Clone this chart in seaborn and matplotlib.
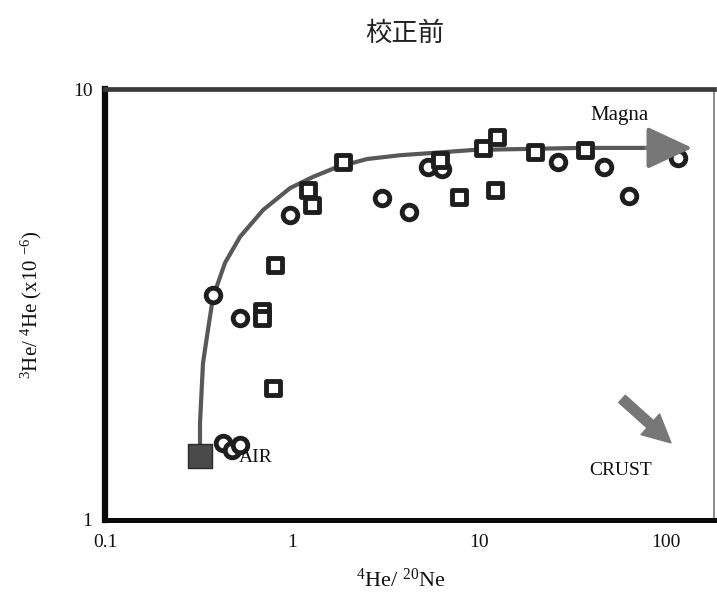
import numpy as np
import pandas as pd
import matplotlib
matplotlib.use("Agg")
import matplotlib.pyplot as plt
from matplotlib.ticker import LogLocator, NullFormatter, FixedLocator, FixedFormatter
import seaborn as sns

# --- data -------------------------------------------------------------
# circles: 4He/20Ne vs 3He/4He (x10^-6)
circle_x = [0.428, 0.477, 0.527, 0.378, 0.527, 0.976, 3.03, 4.23, 5.33, 6.34, 26.4, 46.6, 63.4, 116]
circle_y = [1.51, 1.45, 1.49, 3.32, 2.94, 5.10, 5.59, 5.18, 6.59, 6.53, 6.77, 6.59, 5.64, 6.92]

# squares
square_x = [0.69, 0.69, 0.81, 0.79, 1.28, 1.22, 1.87, 6.2, 7.82, 12.2, 10.5, 12.5, 19.9, 36.9]
square_y = [3.05, 2.94, 3.91, 2.02, 5.38, 5.83, 6.77, 6.85, 5.61, 5.83, 7.30, 7.74, 7.13, 7.22]

# atmospheric end member
air_x = [0.322]
air_y = [1.41]

# air-magma mixing curve
curve_x = [0.322, 0.322, 0.334, 0.355, 0.378, 0.438, 0.527, 0.70, 0.976, 1.29, 1.74, 2.52, 3.78, 5.47, 9.29, 34.7, 80.0]
curve_y = [1.41, 1.68, 2.31, 2.76, 3.29, 3.95, 4.54, 5.24, 5.89, 6.25, 6.59, 6.88, 7.02, 7.10, 7.22, 7.30, 7.30]

x_ticks = [0.1, 1, 10, 100]
x_tick_labels = ["0.1", "1", "10", "100"]
y_ticks = [1, 10]
y_tick_labels = ["1", "10"]

title = "校正前"

# --- styling ----------------------------------------------------------
sns.set_theme(style="white")
plt.rcParams["font.family"] = ["Liberation Serif", "Noto Sans CJK JP", "DejaVu Sans"]
plt.rcParams["mathtext.fontset"] = "custom"
plt.rcParams["mathtext.rm"] = "Liberation Serif"
plt.rcParams["mathtext.it"] = "Liberation Serif:italic"

fig = plt.figure(figsize=(7.17, 6.07), dpi=100)
L, R, B, T = 105 / 717, 714 / 717, 1 - 520 / 607, 1 - 89 / 607
ax = fig.add_axes([L, B, R - L, T - B])

curve_df = pd.DataFrame({"x": curve_x, "y": curve_y})
circ_df = pd.DataFrame({"x": circle_x, "y": circle_y})
sq_df = pd.DataFrame({"x": square_x, "y": square_y})
air_df = pd.DataFrame({"x": air_x, "y": air_y})

sns.lineplot(data=curve_df, x="x", y="y", sort=False, estimator=None,
             color="#585858", lw=3.0, ax=ax, zorder=2)

sns.scatterplot(data=circ_df, x="x", y="y", marker="o", s=110, color="white",
                edgecolor="#1e1e1e", linewidth=3.5, ax=ax, zorder=3)
sns.scatterplot(data=sq_df, x="x", y="y", marker="s", s=100, color="white",
                edgecolor="#1e1e1e", linewidth=3.5, ax=ax, zorder=3)
sns.scatterplot(data=air_df, x="x", y="y", marker="s", s=300, color="#4a4a4a",
                edgecolor="#2a2a2a", linewidth=1.0, ax=ax, zorder=3)

ax.set_xscale("log")
ax.set_yscale("log")
ax.set_xlim(0.1, 180)
ax.set_ylim(1, 10)

# magma arrow at end of the mixing curve
ax.annotate("", xy=(138, 7.30), xytext=(78, 7.30),
            arrowprops=dict(arrowstyle="-|>,head_length=1.4,head_width=0.65",
                            color="#777777", lw=3, mutation_scale=20,
                            shrinkA=0, shrinkB=0), zorder=4)
# crust arrow
ax.annotate("", xy=(106, 1.51), xytext=(58, 1.91),
            arrowprops=dict(arrowstyle="simple,head_length=0.8,head_width=0.8,tail_width=0.28",
                            color="#777777", mutation_scale=25,
                            shrinkA=0, shrinkB=0), zorder=4)

ax.text(56, 8.66, "Magna", fontsize=15, ha="center", va="center", color="#111")
ax.text(56.7, 1.306, "CRUST", fontsize=14, ha="center", va="center", color="#111")
ax.text(0.64, 1.40, "AIR", fontsize=14, ha="center", va="center", color="#111")

# ticks
ax.xaxis.set_major_locator(FixedLocator(x_ticks))
ax.xaxis.set_major_formatter(FixedFormatter(x_tick_labels))
ax.yaxis.set_major_locator(FixedLocator(y_ticks))
ax.yaxis.set_major_formatter(FixedFormatter(y_tick_labels))
ax.xaxis.set_minor_locator(LogLocator(base=10, subs=np.arange(2, 10)))
ax.yaxis.set_minor_locator(LogLocator(base=10, subs=np.arange(2, 10)))
ax.xaxis.set_minor_formatter(NullFormatter())
ax.yaxis.set_minor_formatter(NullFormatter())

ax.tick_params(axis="both", which="major", direction="in", length=8, width=2,
               color="#111", labelsize=14, labelcolor="#111",
               top=False, right=False)
ax.tick_params(axis="both", which="minor", direction="in", length=6, width=1.8,
               color="#111", top=False, right=False)
ax.tick_params(axis="x", which="major", pad=10)
ax.tick_params(axis="y", which="major", pad=9)

for side, lw, col in [("left", 4.5, "#0a0a0a"), ("bottom", 3.6, "#0a0a0a"),
                      ("top", 3.4, "#3a3a3a"), ("right", 1.2, "#777777")]:
    ax.spines[side].set_visible(True)
    ax.spines[side].set_linewidth(lw)
    ax.spines[side].set_color(col)

ax.set_xlabel(r"$^{\mathrm{4}}$He/ $^{\mathrm{20}}$Ne", fontsize=16, color="#111")
ax.set_ylabel(r"$^{\mathrm{3}}$He/ $^{\mathrm{4}}$He (x10 $^{\mathrm{-6}}$)", fontsize=15, color="#111")
ax.xaxis.set_label_coords(0.485, -0.112)
ax.yaxis.set_label_coords(-0.10, 0.5)

fig.text(405 / 717, 1 - 33 / 607, title, fontsize=19, ha="center", va="center",
         family=["Noto Sans CJK JP", "DejaVu Sans"], color="#222")

fig.savefig("out.png", dpi=100, facecolor="white")
